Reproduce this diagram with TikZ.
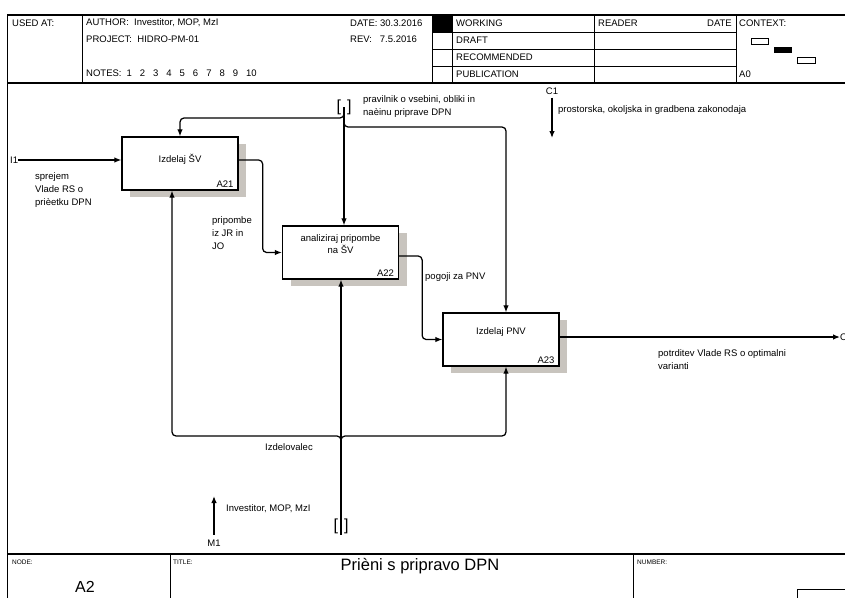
\documentclass[tikz,border=0pt]{standalone}
\usepackage{fontspec}
\setmainfont{Liberation Sans}
\usetikzlibrary{arrows.meta,shadows}
\definecolor{boxshadow}{RGB}{200,196,190}

\begin{document}
\begin{tikzpicture}[x=1pt,y=-1pt,
  % page rules: heavy = outer frame, light = header/footer cells
  frame/.style={line width=1.4pt},
  rule/.style={line width=1pt},
  % activity boxes with the offset solid shadow
  act/.style={draw, line width=1.3pt, fill=white, minimum width=116pt, minimum height=53pt,
              inner sep=0pt, drop shadow={shadow xshift=8pt, shadow yshift=-7pt,
              fill=boxshadow, opacity=1}},
  title/.style={font=\fontsize{9.5}{12}\selectfont, align=center, inner sep=0pt},
  num/.style={font=\fontsize{9.5}{12}\selectfont, anchor=south east, inner xsep=5pt, inner ysep=3pt},
  % arrows and their texts
  flow/.style={-{Latex[length=7pt,width=5.5pt]}, line width=1.25pt, rounded corners=4pt},
  lbl/.style={font=\fontsize{9.5}{13}\selectfont, inner sep=0pt, align=left},
  hdr/.style={font=\fontsize{9.5}{12}\selectfont, inner sep=0pt, anchor=west},
  tiny/.style={font=\fontsize{6.5}{8}\selectfont, inner sep=0pt, anchor=west},
  tunnel/.style={font=\fontsize{16}{16}\selectfont, inner sep=0pt},
  ]
  \fill[white] (0,0) rectangle (845,597);
  \useasboundingbox (0,0) rectangle (845,597);
  % ---- page frame, header and footer rules ----------------------------------------
  \draw[frame] (850,15) -- (7.5,15) -- (7.5,600);
  \draw[frame] (7.5,83) -- (850,83);
  \draw[frame] (7.5,554) -- (850,554);
  \foreach \x in {82,432,452,594,736} \draw[rule] (\x,15) -- (\x,83);
  \foreach \y in {32,49,66} \draw[rule] (432,\y) -- (736,\y);
  \fill (432,15) rectangle (452,32);
  \foreach \x in {170,633} \draw[rule] (\x,554) -- (\x,600);
  \draw[rule] (797,600) |- (850,589);
  % context thumbnail
  \draw[rule] (751,38) rectangle (768,44);
  \fill (774,47) rectangle (792,53);
  \draw[rule] (797,57) rectangle (815,63);
  % ---- header texts ----------------------------------------------------------------
  \node[hdr] (usedat)  at (12,23)  {USED AT:};
  \node[hdr] (author)  at (86,23)  {AUTHOR: \ Investitor, MOP, MzI};
  \node[hdr] (project) at (86,39)  {PROJECT: \ HIDRO-PM-01};
  \node[hdr] (notes)   at (86,73)  {NOTES:\hspace{5pt}1\hspace{8pt}2\hspace{8pt}3\hspace{8pt}4\hspace{8pt}5\hspace{8pt}6\hspace{8pt}7\hspace{8pt}8\hspace{8pt}9\hspace{8pt}10};
  \node[hdr] (date)    at (350,23) {DATE: 30.3.2016};
  \node[hdr] (rev)     at (350,39) {REV: \ \ 7.5.2016};
  \node[hdr] (working) at (456,23) {WORKING};
  \node[hdr] (draft)   at (456,40) {DRAFT};
  \node[hdr] (recom)   at (456,57) {RECOMMENDED};
  \node[hdr] (publ)    at (456,74) {PUBLICATION};
  \node[hdr] (reader)  at (598,23) {READER};
  \node[hdr, anchor=east] (rdate) at (732,23) {DATE};
  \node[hdr] (context) at (739,23) {CONTEXT:};
  \node[hdr] (ctxnode) at (739,74) {A0};
  % ---- footer texts ----------------------------------------------------------------
  \node[tiny] (nodelbl)  at (12,562)  {NODE:};
  \node[tiny] (titlelbl) at (173,562) {TITLE:};
  \node[tiny] (numlbl)   at (637,562) {NUMBER:};
  \node[font=\fontsize{16}{18}\selectfont] (nodeno) at (85,587) {A2};
  \node[font=\fontsize{16.5}{18}\selectfont] (ttl) at (420,566) {Prièni s pripravo DPN};
  % ---- activities --------------------------------------------------------------------
  \node[act] (a21) at (180,163.5) {};
  \node[act] (a22) at (340.5,252.5) {};
  \node[act] (a23) at (501,339.5) {};
  \node[title] (t21) at ([yshift=4.5]a21.center) {Izdelaj ŠV};
  \node[title] (t22) at ([yshift=8.5]a22.center) {analiziraj pripombe\\na ŠV};
  \node[title] (t23) at ([yshift=7.5]a23.center) {Izdelaj PNV};
  \node[num] at (a21.south east) {A21};
  \node[num] at (a22.south east) {A22};
  \node[num] at (a23.south east) {A23};
  % ---- boundary arrows ---------------------------------------------------------------
  \node[lbl, anchor=west] (i1) at (10,160) {I1};
  \draw[flow] (i1.east) -- (i1.east -| a21.west);
  \node[lbl, anchor=north west] at (35,172.5) {sprejem\\Vlade RS o\\prièetku DPN};
  \node[lbl] (c1) at (552,91) {C1};
  \coordinate (c1end) at (552,138);
  \draw[flow, shorten <=3pt] (c1) -- (c1end);
  \node[lbl, anchor=west] at (558,110) {prostorska, okoljska in gradbena zakonodaja};
  \node[lbl, anchor=west] (o1) at (840,337) {O1};
  \draw[flow] ([yshift=2.5]a23.east) -- (o1.west);
  \node[lbl, anchor=north west] at (658,349.5) {potrditev Vlade RS o optimalni\\varianti};
  \node[lbl] (m1) at (214,543) {M1};
  \coordinate (m1end) at (214,496);
  \draw[flow, shorten <=5pt] (m1) -- (m1end);
  \node[lbl, anchor=west] at (226,509) {Investitor, MOP, MzI};
  % ---- internal flows ----------------------------------------------------------------
  \draw[flow] ([yshift=3.5]a21.east) -- ++(24,0) |- (a22.west);
  \node[lbl, anchor=north west] at (212,216.5) {pripombe\\iz JR in\\JO};
  \draw[flow] ([yshift=-3.5]a22.east) -- ++(23,0) |- (a23.west);
  \node[lbl, anchor=west] at (425,277) {pogoji za PNV};
  % ---- tunnelled control (top) -------------------------------------------------------
  \node[tunnel] (ttop) at (344,107) {[\hspace{6pt}]};
  \draw[flow] (ttop.center) -- ++(0,11) -| (a21.north);
  \draw[flow] (ttop.center) -- (ttop.center |- a22.north);
  \draw[flow] (ttop.center) -- ++(0,20) -| ([xshift=5]a23.north);
  \node[lbl, anchor=north west] at (363,95.5) {pravilnik o vsebini, obliki in\\naèinu priprave DPN};
  % ---- tunnelled mechanism (bottom) --------------------------------------------------
  \node[tunnel] (tbot) at (341,526) {[\hspace{6pt}]};
  \coordinate (mj) at (341,436);
  \draw[flow] ([yshift=-1]tbot.south) -- (mj) -| ([xshift=-8]a21.south);
  \draw[flow] ([yshift=-1]tbot.south) -- (mj) -| ([xshift=5]a23.south);
  \draw[flow] ([yshift=-1]tbot.south) -- (tbot.south |- a22.south);
  \node[lbl] at (289,447) {Izdelovalec};
\end{tikzpicture}
\end{document}
